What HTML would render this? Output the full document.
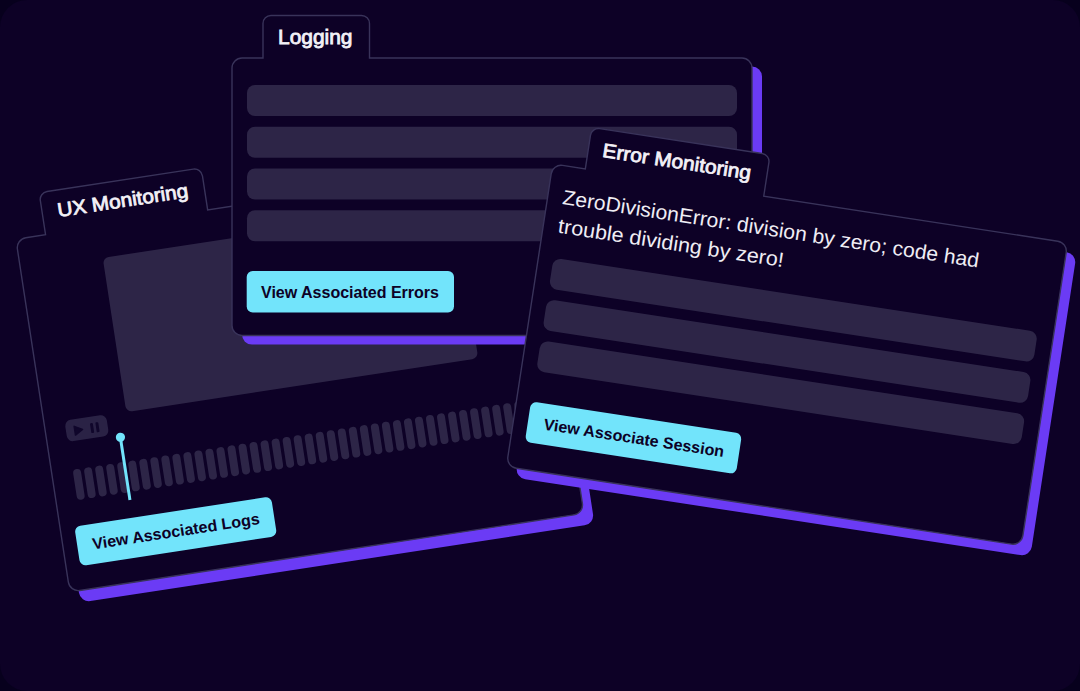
<!DOCTYPE html>
<html>
<head>
<meta charset="utf-8">
<style>
html,body{margin:0;padding:0;background:#07001d;}
body{width:1080px;height:691px;overflow:hidden;font-family:"Liberation Sans",sans-serif;}
svg{display:block;}
text{font-family:"Liberation Sans",sans-serif;}
.card{fill:#0d0126;stroke:#39335a;stroke-width:1.4;}
.shadow{fill:#6b3bf5;}
.bar{fill:#2d2547;}
.btn{fill:#72e4fb;}
.ttl{fill:#f3f1f7;font-size:19.6px;stroke:#f3f1f7;stroke-width:0.8px;}
.btxt{fill:#0d0126;font-weight:bold;font-size:16px;}
.msg{fill:#efedf4;font-size:20.5px;}
</style>
</head>
<body>
<svg width="1080" height="691" viewBox="0 0 1080 691">
  <rect x="0" y="0" width="1080" height="691" fill="#07001d"/>
  <rect x="0" y="0" width="1080" height="691" rx="27" ry="27" fill="#0d0126"/>

  <!-- ============ UX Monitoring card ============ -->
  <g transform="translate(15.9,239.3) rotate(-8.7)">
    <path class="shadow" transform="translate(8.9,12)" d="M10,0 H510 a10,10 0 0 1 10,10 V346.8 a10,10 0 0 1 -10,10 H10 a10,10 0 0 1 -10,-10 V10 a10,10 0 0 1 10,-10 Z"/>
    <path class="card" d="M10,0 H30 V-34.5 a8,8 0 0 1 8,-8 H186 a8,8 0 0 1 8,8 V0 H510 a10,10 0 0 1 10,10 V346.8 a10,10 0 0 1 -10,10 H10 a10,10 0 0 1 -10,-10 V10 a10,10 0 0 1 10,-10 Z"/>
    <text class="ttl" x="45.5" y="-15.6" textLength="132" lengthAdjust="spacingAndGlyphs">UX Monitoring</text>
    <rect class="bar" x="83" y="31.5" width="356" height="156" rx="6"/>
    <!-- play / pause -->
    <g transform="translate(6.5,1.7)"><rect x="14" y="185" width="42" height="21.5" rx="6" fill="#2a2245"/>
    <path d="M22.8,192 L30.6,196.4 L22.8,200.8 Z" fill="#10062b" stroke="#10062b" stroke-width="1.5" stroke-linejoin="round"/>
    <rect x="38.8" y="191.4" width="2.9" height="10" rx="1" fill="#10062b"/>
    <rect x="44.3" y="191.4" width="2.9" height="10" rx="1" fill="#10062b"/></g>
    <!-- timeline bars -->
    <g><rect x="21.20" y="236.3" width="8" height="31" rx="4" fill="#2d2547"/><rect x="32.35" y="236.3" width="8" height="31" rx="4" fill="#2d2547"/><rect x="43.51" y="236.3" width="8" height="31" rx="4" fill="#2d2547"/><rect x="54.66" y="236.3" width="8" height="31" rx="4" fill="#2d2547"/><rect x="65.82" y="236.3" width="8" height="31" rx="4" fill="#2d2547"/><rect x="76.97" y="236.3" width="8" height="31" rx="4" fill="#2d2547"/><rect x="88.13" y="236.3" width="8" height="31" rx="4" fill="#2d2547"/><rect x="99.28" y="236.3" width="8" height="31" rx="4" fill="#2d2547"/><rect x="110.44" y="236.3" width="8" height="31" rx="4" fill="#2d2547"/><rect x="121.59" y="236.3" width="8" height="31" rx="4" fill="#2d2547"/><rect x="132.75" y="236.3" width="8" height="31" rx="4" fill="#2d2547"/><rect x="143.91" y="236.3" width="8" height="31" rx="4" fill="#2d2547"/><rect x="155.06" y="236.3" width="8" height="31" rx="4" fill="#2d2547"/><rect x="166.21" y="236.3" width="8" height="31" rx="4" fill="#2d2547"/><rect x="177.37" y="236.3" width="8" height="31" rx="4" fill="#2d2547"/><rect x="188.52" y="236.3" width="8" height="31" rx="4" fill="#2d2547"/><rect x="199.68" y="236.3" width="8" height="31" rx="4" fill="#2d2547"/><rect x="210.83" y="236.3" width="8" height="31" rx="4" fill="#2d2547"/><rect x="221.99" y="236.3" width="8" height="31" rx="4" fill="#2d2547"/><rect x="233.14" y="236.3" width="8" height="31" rx="4" fill="#2d2547"/><rect x="244.30" y="236.3" width="8" height="31" rx="4" fill="#2d2547"/><rect x="255.45" y="236.3" width="8" height="31" rx="4" fill="#2d2547"/><rect x="266.61" y="236.3" width="8" height="31" rx="4" fill="#2d2547"/><rect x="277.76" y="236.3" width="8" height="31" rx="4" fill="#2d2547"/><rect x="288.92" y="236.3" width="8" height="31" rx="4" fill="#2d2547"/><rect x="300.07" y="236.3" width="8" height="31" rx="4" fill="#2d2547"/><rect x="311.23" y="236.3" width="8" height="31" rx="4" fill="#2d2547"/><rect x="322.38" y="236.3" width="8" height="31" rx="4" fill="#2d2547"/><rect x="333.54" y="236.3" width="8" height="31" rx="4" fill="#2d2547"/><rect x="344.69" y="236.3" width="8" height="31" rx="4" fill="#2d2547"/><rect x="355.85" y="236.3" width="8" height="31" rx="4" fill="#2d2547"/><rect x="367.00" y="236.3" width="8" height="31" rx="4" fill="#2d2547"/><rect x="378.16" y="236.3" width="8" height="31" rx="4" fill="#2d2547"/><rect x="389.31" y="236.3" width="8" height="31" rx="4" fill="#2d2547"/><rect x="400.47" y="236.3" width="8" height="31" rx="4" fill="#2d2547"/><rect x="411.62" y="236.3" width="8" height="31" rx="4" fill="#2d2547"/><rect x="422.78" y="236.3" width="8" height="31" rx="4" fill="#2d2547"/><rect x="433.93" y="236.3" width="8" height="31" rx="4" fill="#2d2547"/><rect x="445.09" y="236.3" width="8" height="31" rx="4" fill="#2d2547"/><rect x="456.24" y="236.3" width="8" height="31" rx="4" fill="#2d2547"/><rect x="467.40" y="236.3" width="8" height="31" rx="4" fill="#2d2547"/><rect x="478.55" y="236.3" width="8" height="31" rx="4" fill="#2d2547"/><rect x="489.71" y="236.3" width="8" height="31" rx="4" fill="#2d2547"/><rect x="500.86" y="236.3" width="8" height="31" rx="4" fill="#2d2547"/><rect x="512.02" y="236.3" width="8" height="31" rx="4" fill="#2d2547"/></g>
    <!-- playhead -->
    <rect x="71.8" y="212" width="3" height="63" fill="#72e4fb"/>
    <circle cx="73.4" cy="211.5" r="4.6" fill="#72e4fb"/>
    <!-- button -->
    <rect class="btn" x="14.3" y="292.8" width="199" height="40" rx="6"/>
    <text class="btxt" x="29.5" y="318.3" textLength="169" lengthAdjust="spacingAndGlyphs">View Associated Logs</text>
  </g>

  <!-- ============ Logging card ============ -->
  <g transform="translate(232,58)">
    <path class="shadow" transform="translate(10,8.5)" d="M10,0 H510 a10,10 0 0 1 10,10 V268.1 a10,10 0 0 1 -10,10 H10 a10,10 0 0 1 -10,-10 V10 a10,10 0 0 1 10,-10 Z"/>
    <path class="card" d="M10,0 H31 V-34.5 a8,8 0 0 1 8,-8 H129.5 a8,8 0 0 1 8,8 V0 H510 a10,10 0 0 1 10,10 V267.5 a10,10 0 0 1 -10,10 H10 a10,10 0 0 1 -10,-10 V10 a10,10 0 0 1 10,-10 Z"/>
    <text class="ttl" x="46" y="-14.3" textLength="74.5" lengthAdjust="spacingAndGlyphs">Logging</text>
    <rect class="bar" x="15" y="27" width="490" height="31" rx="8"/>
    <rect class="bar" x="15" y="68.75" width="490" height="31" rx="8"/>
    <rect class="bar" x="15" y="110.5" width="490" height="31" rx="8"/>
    <rect class="bar" x="15" y="152.25" width="490" height="31" rx="8"/>
    <rect class="btn" x="14.7" y="213" width="207.3" height="41.5" rx="6"/>
    <text class="btxt" x="29" y="239.8" textLength="178" lengthAdjust="spacingAndGlyphs">View Associated Errors</text>
  </g>

  <!-- ============ Error Monitoring card ============ -->
  <g transform="translate(552.7,163.92) rotate(8.7)">
    <path class="shadow" transform="translate(10.5,9.5)" d="M10,0 H511 a10,10 0 0 1 10,10 V296.4 a10,10 0 0 1 -10,10 H10 a10,10 0 0 1 -10,-10 V10 a10,10 0 0 1 10,-10 Z"/>
    <path class="card" d="M10,0 H33 V-34 a8,8 0 0 1 8,-8 H205.5 a8,8 0 0 1 8,8 V0 H511 a10,10 0 0 1 10,10 V296.4 a10,10 0 0 1 -10,10 H10 a10,10 0 0 1 -10,-10 V10 a10,10 0 0 1 10,-10 Z"/>
    <text class="ttl" x="47.5" y="-14.5" textLength="150" lengthAdjust="spacingAndGlyphs">Error Monitoring</text>
    <text class="msg" x="15" y="38.2" textLength="421" lengthAdjust="spacingAndGlyphs">ZeroDivisionError: division by zero; code had</text>
    <text class="msg" x="15" y="67.2" textLength="228" lengthAdjust="spacingAndGlyphs">trouble dividing by zero!</text>
    <rect class="bar" x="15" y="92.7" width="490" height="31" rx="8"/>
    <rect class="bar" x="15" y="134.45" width="490" height="31" rx="8"/>
    <rect class="bar" x="15" y="176.2" width="490" height="31" rx="8"/>
    <rect class="btn" x="14.5" y="238" width="213.5" height="41" rx="6"/>
    <text class="btxt" x="30.5" y="264" textLength="182.5" lengthAdjust="spacingAndGlyphs">View Associate Session</text>
  </g>
</svg>
</body>
</html>
